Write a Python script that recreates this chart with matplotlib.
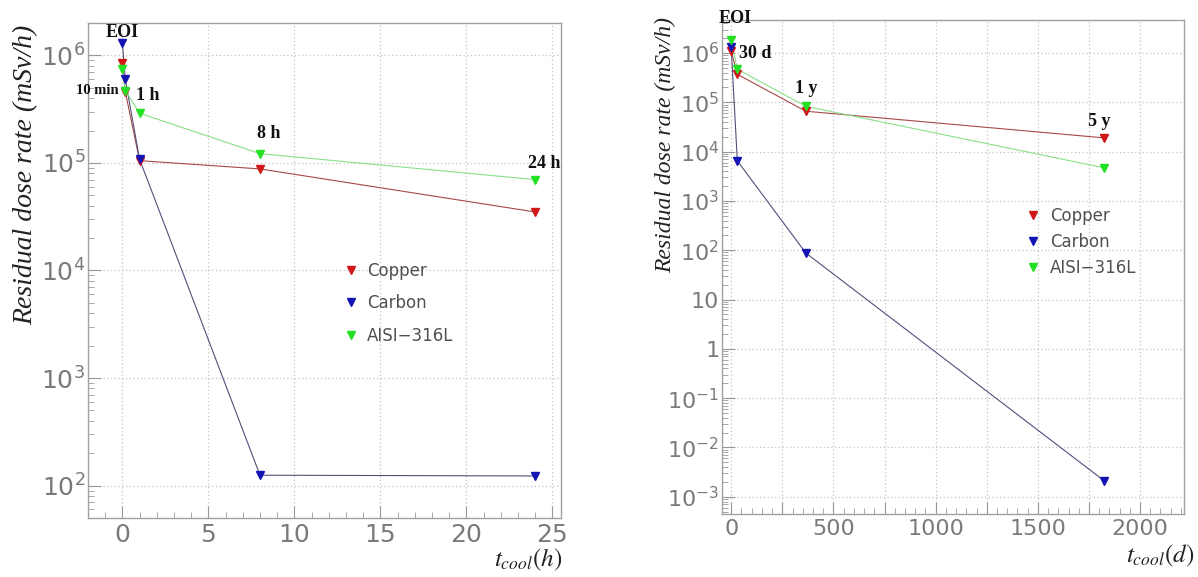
import matplotlib
matplotlib.use('Agg')
import matplotlib.pyplot as plt
import matplotlib.ticker as mticker
import numpy as np

plt.rcParams['mathtext.fontset'] = 'stix'

# left panel: cooling time in hours
t_h = [0, 0.167, 1, 8, 24]
copper_h = [8.5e5, 4.6e5, 1.05e5, 8.8e4, 3.5e4]
carbon_h = [1.3e6, 6.0e5, 1.08e5, 125, 123]
aisi_h = [7.5e5, 4.7e5, 2.9e5, 1.22e5, 7.0e4]
labels_h = ['EOI', '10 min', '1 h', '8 h', '24 h']
label_pos_h = [(0, 1.64e6), (-1.45, 4.7e5), (1.45, 4.2e5), (8.5, 1.88e5), (24.5, 9.9e4)]

# right panel: cooling time in days
t_d = [0, 30, 365, 1825]
copper_d = [1.1e6, 3.7e5, 6.6e4, 1.9e4]
carbon_d = [1.3e6, 6.5e3, 88, 2.1e-3]
aisi_d = [1.8e6, 4.7e5, 8.3e4, 4.7e3]
labels_d = ['EOI', '30 d', '1 y', '5 y']
label_pos_d = [(20, 5.1e6), (118, 1.0e6), (368, 1.95e5), (1799, 4.0e4)]

series = ['Copper', 'Carbon', 'AISI\u2212316L']
mcol = ['#d01818', '#1414b4', '#22e022']
lcol = ['#a84848', '#50507a', '#88e088']

fig = plt.figure(figsize=(11.98, 5.77), dpi=100)
gray = '#7a7a7a'


def style_axes(ax, fs):
    for s in ax.spines.values():
        s.set_color('#a0a0a0')
        s.set_linewidth(1.0)
    ax.tick_params(which='both', direction='in', top=False, right=False,
                   colors='#999999', labelcolor=gray, labelsize=fs)
    ax.tick_params(which='major', length=9)
    ax.tick_params(which='minor', length=4.5)
    ax.tick_params(axis='y', pad=2)
    ax.grid(True, which='major', ls=(0, (1, 2)), color='#c4c4c4', lw=0.9)


def sup_label(e):
    if e == 0:
        return '1'
    if e == 1:
        return '10'
    return r'$\mathregular{10^{%d}}$' % e


def draw(ax, t, ys, lab, pos):
    for y, mc, lc, name in zip(ys, mcol, lcol, series):
        ax.plot(t, y, color=lc, lw=0.8, zorder=2)
        ax.plot(t, y, ls='none', marker='v', ms=5.5, color=mc, label=name, zorder=3)
    for txt, (x, y) in zip(lab, pos):
        ax.text(x, y, txt, ha='center', va='center', family='Liberation Serif',
                fontweight='bold', fontsize=10.5 if txt == '10 min' else 13,
                color='#111111', clip_on=False)


# ---- left
ax1 = fig.add_axes([88 / 1198, 59 / 577, 473 / 1198, 495 / 577])
ax1.set_yscale('log')
draw(ax1, t_h, [copper_h, carbon_h, aisi_h], labels_h, label_pos_h)
ax1.set_xlim(-2, 25.5)
ax1.set_ylim(50, 2.0e6)
ax1.xaxis.set_major_locator(mticker.MultipleLocator(5))
ax1.xaxis.set_minor_locator(mticker.MultipleLocator(1))
dec1 = [2, 3, 4, 5, 6]
ax1.set_yticks([10.0 ** e for e in dec1], [sup_label(e) for e in dec1])
ax1.yaxis.set_minor_locator(mticker.LogLocator(base=10, subs=np.arange(2, 10)))
ax1.yaxis.set_minor_formatter(mticker.NullFormatter())
style_axes(ax1, 18)
ax1.legend(loc='upper left', bbox_to_anchor=(0.52, 0.535), frameon=False,
           borderpad=0, handlelength=1, handletextpad=0.5, labelspacing=0.87,
           fontsize=12, labelcolor='#505050')

# ---- right
ax2 = fig.add_axes([722 / 1198, 63 / 577, 462 / 1198, 494 / 577])
ax2.set_yscale('log')
draw(ax2, t_d, [copper_d, carbon_d, aisi_d], labels_d, label_pos_d)
ax2.set_xlim(-45, 2215)
ax2.set_ylim(10 ** -3.35, 10 ** 6.67)
ax2.xaxis.set_major_locator(mticker.MultipleLocator(250))
ax2.xaxis.set_minor_locator(mticker.MultipleLocator(50))
ax2.xaxis.set_major_formatter(mticker.FuncFormatter(lambda v, p: '%d' % v if v % 500 == 0 else ''))
dec2 = list(range(-3, 7))
ax2.set_yticks([10.0 ** e for e in dec2], [sup_label(e) for e in dec2])
ax2.yaxis.set_minor_locator(mticker.LogLocator(base=10, subs=np.arange(2, 10), numticks=30))
ax2.yaxis.set_minor_formatter(mticker.NullFormatter())
style_axes(ax2, 16)
ax2.legend(loc='upper left', bbox_to_anchor=(0.637, 0.638), frameon=False,
           borderpad=0, handlelength=1, handletextpad=0.5, labelspacing=0.48,
           fontsize=12, labelcolor='#505050')

# axis titles
fig.text(26 / 1198, 1 - 175 / 577, 'Residual dose rate (mSv/h)', rotation=90,
         ha='center', va='center', family='Liberation Serif', style='italic',
         fontsize=20, color='#222222')
fig.text(666 / 1198, 1 - 145 / 577, 'Residual dose rate (mSv/h)', rotation=90,
         ha='center', va='center', family='Liberation Serif', style='italic',
         fontsize=17, color='#222222')
fig.text(562 / 1198, 1 - 560 / 577, r'$t_{cool}(h)$', ha='right', va='center',
         fontsize=18, color='#222222')
fig.text(1194 / 1198, 1 - 556 / 577, r'$t_{cool}(d)$', ha='right', va='center',
         fontsize=18, color='#222222')

fig.savefig('out.png', dpi=100)
